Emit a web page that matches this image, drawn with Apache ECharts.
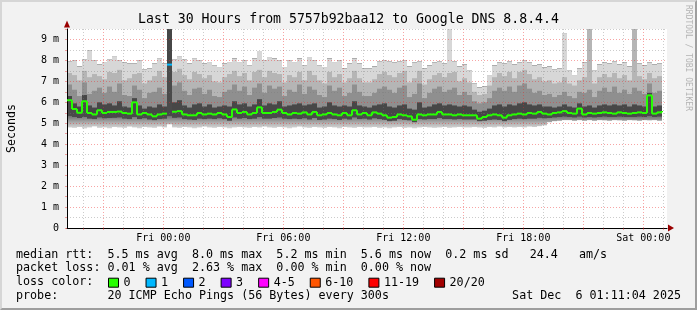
<!DOCTYPE html>
<html><head><meta charset="utf-8">
<script src="https://cdn.jsdelivr.net/npm/echarts@6/dist/echarts.min.js"></script>
<style>
html,body{margin:0;padding:0;background:#f2f2f2;}
#wrap{position:relative;width:697px;height:310px;overflow:hidden;}
#chart{position:absolute;left:0;top:0;width:697px;height:310px;}
#frame{position:absolute;left:0;top:0;width:697px;height:310px;box-sizing:border-box;border-style:solid;border-width:2px;border-color:#d6d6d6 #9e9e9e #9e9e9e #d6d6d6;pointer-events:none;}
</style></head><body>
<div id="wrap"><div id="chart"></div><div id="frame"></div></div>
<script>
// ---------------- data ----------------
const titleText = 'Last 30 Hours from 5757b92baa12 to Google DNS 8.8.4.4';
const yAxisTitle = 'Seconds';
const startHour = 19 + 11 / 60 + 4 / 3600;   // Thu 19:11:04, hours from Thu 00:00
const stepHours = 0.25;                        // one smoke column = 15 min
const spanHours = 30;
const gridHours = [20,21,22,23,24,25,26,27,28,29,30,31,32,33,34,35,36,37,38,39,40,41,42,43,44,45,46,47,48,49];
const xTickHours = [24, 30, 36, 42, 48];
const xTickLabels = ['Fri 00:00', 'Fri 06:00', 'Fri 12:00', 'Fri 18:00', 'Sat 00:00'];
const yTickValues = [0, 1, 2, 3, 4, 5, 6, 7, 8, 9];
const yTickLabels = ['0', '1 m', '2 m', '3 m', '4 m', '5 m', '6 m', '7 m', '8 m', '9 m'];

// median RTT per step (ms)
const median = [
 6.10,5.68,5.50,6.05,5.49,5.42,5.62,5.49,5.54,5.54,5.56,5.49,5.46,6.00,5.42,5.49,5.42,5.33,5.42,5.46,
 7.80,5.55,5.58,5.42,5.38,5.38,5.49,5.42,5.46,5.42,5.49,5.42,5.30,5.66,5.49,5.54,5.42,5.49,5.76,5.49,
 5.49,5.54,5.65,5.49,5.42,5.49,5.46,5.52,5.42,5.54,5.38,5.42,5.49,5.42,5.38,5.49,5.38,5.62,5.42,5.49,
 5.38,5.52,5.46,5.38,5.27,5.30,5.42,5.38,5.33,5.17,5.42,5.38,5.42,5.42,5.54,5.42,5.42,5.38,5.42,5.38,
 5.38,5.38,5.22,5.30,5.38,5.42,5.38,5.27,5.38,5.42,5.46,5.42,5.49,5.46,5.54,5.46,5.42,5.49,5.52,5.58,
 5.49,5.46,5.70,5.42,5.49,5.46,5.49,5.52,5.49,5.46,5.52,5.49,5.46,5.49,5.52,5.49,6.33,5.46,5.52,5.58
];
// fastest ping per step
const pingMin = [
 4.80,4.78,4.82,4.75,4.80,4.85,4.78,4.80,4.76,4.82,4.80,4.78,4.84,4.80,4.76,4.82,4.80,4.78,4.84,4.80,
 4.95,4.80,4.78,4.82,4.80,4.76,4.80,4.84,4.80,4.78,4.82,4.80,4.76,4.80,4.82,4.80,4.78,4.82,4.80,4.84,
 4.80,4.78,4.82,4.80,4.76,4.80,4.84,4.80,4.78,4.82,4.80,4.78,4.82,4.80,4.76,4.82,4.80,4.78,4.82,4.80,
 4.80,4.82,4.78,4.80,4.76,4.80,4.82,4.78,4.80,4.76,4.80,4.82,4.80,4.78,4.80,4.82,4.78,4.80,4.82,4.80,
 4.80,4.82,4.80,4.78,4.82,4.80,4.84,4.80,4.82,4.80,4.82,4.80,4.84,4.82,4.86,4.90,5.05,5.10,5.12,5.15,
 5.15,5.12,5.15,5.12,5.15,5.12,5.15,5.14,5.12,5.15,5.14,5.12,5.15,5.14,5.12,5.15,5.14,5.15,5.12,5.15
];
// lower dense edge
const pingLow = [
 5.35,5.30,5.25,5.30,5.22,5.20,5.28,5.24,5.25,5.26,5.28,5.22,5.20,5.30,5.20,5.24,5.18,5.15,5.20,5.22,
 5.35,5.26,5.28,5.20,5.18,5.16,5.22,5.20,5.22,5.20,5.24,5.20,5.12,5.28,5.22,5.25,5.20,5.22,5.30,5.22,
 5.22,5.25,5.28,5.22,5.20,5.22,5.20,5.24,5.18,5.25,5.16,5.18,5.22,5.20,5.16,5.22,5.18,5.28,5.20,5.22,
 5.18,5.24,5.20,5.16,5.10,5.12,5.20,5.16,5.14,5.05,5.20,5.18,5.20,5.20,5.25,5.20,5.20,5.18,5.20,5.18,
 5.18,5.18,5.10,5.12,5.16,5.18,5.16,5.10,5.16,5.20,5.22,5.20,5.22,5.22,5.26,5.24,5.25,5.28,5.30,5.32,
 5.30,5.28,5.32,5.28,5.30,5.28,5.30,5.32,5.30,5.30,5.32,5.30,5.30,5.30,5.32,5.30,5.35,5.30,5.32,5.34
];
// upper dense edge
const pingHigh = [
 6.30,5.95,5.80,6.35,5.85,5.75,6.00,5.90,5.95,5.85,6.05,5.80,5.75,6.20,5.85,5.70,5.80,5.75,5.90,5.80,
 9.60,6.00,6.10,5.85,5.75,5.90,5.95,5.80,5.90,5.75,5.80,5.85,5.80,6.05,5.90,5.95,5.80,5.90,6.15,5.85,
 5.95,5.90,6.05,5.80,5.85,5.90,5.95,5.85,5.90,5.95,5.75,5.80,6.00,5.85,5.80,5.85,5.80,6.05,5.85,5.80,
 5.75,5.85,5.90,5.95,5.80,5.75,5.85,5.90,5.70,5.65,6.00,5.75,5.80,5.90,5.95,5.85,5.90,5.85,5.80,5.85,
 5.80,5.65,5.55,5.60,5.70,5.85,5.90,5.80,5.90,5.85,5.95,6.00,5.90,5.85,5.90,5.80,5.80,5.75,5.80,5.90,
 5.80,5.75,5.95,5.80,5.85,5.75,5.85,5.90,5.85,5.90,5.85,5.90,5.80,5.90,5.85,5.80,6.45,5.80,5.85,5.90
];
// middle of the upper smoke
const pingMid = [
 6.85,6.60,6.30,6.95,6.40,6.55,6.70,6.45,6.75,6.50,6.90,6.35,6.30,6.80,6.60,6.20,6.45,6.50,6.70,6.40,
 9.60,6.80,6.95,6.55,6.35,6.65,6.70,6.40,6.60,6.30,6.25,6.50,6.60,6.85,6.55,6.75,6.35,6.70,6.90,6.45,
 6.80,6.65,6.75,6.30,6.60,6.50,6.85,6.40,6.75,6.60,6.35,6.25,6.80,6.55,6.70,6.30,6.45,6.85,6.50,6.30,
 6.30,6.45,6.65,6.75,6.60,6.45,6.70,6.80,6.25,6.40,6.90,6.20,6.45,6.65,6.75,6.50,6.60,6.70,6.35,6.50,
 6.35,6.05,5.95,6.00,6.20,6.55,6.70,6.55,6.75,6.50,6.80,6.90,6.65,6.45,6.55,6.35,6.40,6.25,6.35,6.50,
 6.30,6.20,6.50,6.45,6.60,6.25,6.55,6.70,6.50,6.75,6.45,6.60,6.40,6.70,6.55,6.40,6.90,6.45,6.55,6.50
];
// upper smoke edge
const pingUpper = [
 7.40,7.30,7.05,7.50,7.20,7.35,7.25,7.10,7.45,7.40,7.55,7.05,7.15,7.35,7.40,6.90,7.05,7.25,7.50,7.20,
 9.60,7.45,7.60,7.30,7.10,7.45,7.35,7.15,7.30,7.00,6.95,7.20,7.35,7.50,7.25,7.40,7.05,7.45,7.55,7.20,
 7.50,7.40,7.35,6.95,7.30,7.20,7.45,7.05,7.50,7.30,7.05,6.90,7.45,7.20,7.35,6.95,7.15,7.50,7.15,6.95,
 6.95,7.10,7.35,7.45,7.30,7.20,7.40,7.50,6.95,7.15,7.50,6.85,7.10,7.30,7.40,7.20,7.40,7.45,7.00,7.15,
 6.95,6.50,6.35,6.40,6.80,7.20,7.40,7.25,7.45,7.15,7.45,7.55,7.35,7.10,7.20,7.00,7.05,6.90,6.95,7.20,
 6.90,6.80,7.05,7.20,9.50,6.90,7.20,7.35,7.20,7.40,7.15,7.30,7.05,9.50,7.25,7.10,7.40,7.15,7.25,7.20
];
// slowest ping per step
const pingMax = [
 7.95,8.00,7.70,8.05,8.48,8.00,7.80,7.92,8.05,8.20,8.00,7.90,7.85,7.85,8.00,7.55,7.60,7.85,8.10,7.85,
 9.60,8.05,8.20,8.05,7.84,8.10,8.00,7.84,7.92,7.76,7.68,7.84,7.92,8.08,7.92,8.00,7.76,8.08,8.45,8.00,
 8.16,8.08,8.00,7.68,8.00,7.92,8.08,7.76,8.16,8.00,7.76,7.68,8.08,7.92,8.00,7.60,7.84,8.08,7.84,7.60,
 7.60,7.70,7.95,8.00,7.95,7.90,7.95,8.00,7.70,7.90,7.95,7.60,7.75,7.90,7.95,7.85,9.60,7.95,7.70,7.80,
 7.50,6.90,6.70,6.75,7.30,7.75,7.90,7.85,7.95,7.80,7.90,8.00,7.90,7.75,7.80,7.65,7.70,7.55,7.60,9.30,
 7.50,7.30,7.60,7.90,9.60,7.50,7.80,7.90,7.85,7.95,7.80,7.90,7.70,9.60,7.85,7.75,7.90,7.80,7.85,7.75
];
// lost pings (of 20) per step
const lossCount = [
 0,0,0,0,0,0,0,0,0,0,0,0,0,0,0,0,0,0,0,0,
 1,0,0,0,0,0,0,0,0,0,0,0,0,0,0,0,0,0,0,0,
 0,0,0,0,0,0,0,0,0,0,0,0,0,0,0,0,0,0,0,0,
 0,0,0,0,0,0,0,0,0,0,0,0,0,0,0,0,0,0,0,0,
 0,0,0,0,0,0,0,0,0,0,0,0,0,0,0,0,0,0,0,0,
 0,0,0,0,0,0,0,0,0,0,0,0,0,0,0,0,0,0,0,0
];
const lossLabels = ['0', '1', '2', '3', '4-5', '6-10', '11-19', '20/20'];
const lossUpperBounds = [0, 1, 2, 3, 5, 10, 19, 20];

const statLines = [
  'median rtt:  5.5 ms avg  8.0 ms max  5.2 ms min  5.6 ms now  0.2 ms sd   24.4   am/s',
  'packet loss: 0.01 % avg  2.63 % max  0.00 % min  0.00 % now',
  'loss color:',
  'probe:       20 ICMP Echo Pings (56 Bytes) every 300s'
];
const dateText = 'Sat Dec  6 01:11:04 2025';
const watermark = 'RRDTOOL / TOBI OETIKER';

// ---------------- styles ----------------
const MONO = '"DejaVu Sans Mono", monospace';
const lossColors = ['#26ff00', '#00b8ff', '#0059ff', '#7e00ff', '#ff00ff', '#ff5500', '#ff0000', '#a10000'];
const bandColors = [null, '#4a4a4a', '#474747', '#8f8f8f', '#b5b5b5', '#d7d7d7'];
const ARROW = '#9a0000';
const MAJOR = 'rgba(235,40,40,0.42)';
const MINOR = 'rgba(120,120,120,0.38)';
const DOT = [1, 2];

// ---------------- build ----------------
const N = median.length;
const xs = median.map((_, i) => startHour + i * stepHours);
function bucket(l) { for (let b = 0; b < lossUpperBounds.length; b++) if (l <= lossUpperBounds[b]) return b; return lossUpperBounds.length - 1; }

// smoke: each column is drawn as nested rectangles from each quantile up to the max
const smokeSeries = {
  type: 'custom', z: 2, clip: true, silent: true,
  data: xs.map((x, i) => [x, i < N - 1 ? xs[i + 1] : x, pingMin[i], pingLow[i], median[i], pingHigh[i], pingMid[i], pingUpper[i], pingMax[i]]),
  encode: { x: [0, 1], y: [2, 8] },
  renderItem: function (params, api) {
    const x0 = api.value(0), x1 = api.value(1);
    const top = api.coord([x1, api.value(8)]);
    const gTop = api.coord([x0, 5.35])[1], gBot = api.coord([x0, 4.72])[1];
    const grad = new echarts.graphic.LinearGradient(0, gTop, 0, gBot,
      [{ offset: 0, color: '#707070' }, { offset: 0.5, color: '#ababab' }, { offset: 1, color: '#dedede' }], true);
    const children = [];
    for (let j = 0; j < 6; j++) {
      const b = api.coord([x0, api.value(2 + j)]);
      children.push({
        type: 'rect',
        shape: { x: b[0], y: top[1], width: top[0] - b[0], height: b[1] - top[1] },
        style: { fill: j === 0 ? grad : bandColors[j] }
      });
    }
    return { type: 'group', children: children };
  }
};

const medianSeries = {
  type: 'custom', z: 6, clip: true, silent: true,
  data: median.map((m, i) => [xs[i], i < N - 1 ? xs[i + 1] : xs[i], m, i > 0 ? median[i - 1] : m, lossCount[i], i > 0 ? lossCount[i - 1] : lossCount[i]]),
  encode: { x: [0, 1], y: [2, 3] },
  renderItem: function (params, api) {
    const a = api.coord([api.value(0), api.value(2)]);
    const b = api.coord([api.value(1), api.value(2)]);
    const p = api.coord([api.value(0), api.value(3)]);
    const c = lossColors[bucket(api.value(4))];
    const children = [{ type: 'line', shape: { x1: a[0], y1: a[1], x2: b[0], y2: b[1] }, style: { stroke: c, lineWidth: 2 } }];
    if (bucket(api.value(5)) === bucket(api.value(4))) {
      children.push({ type: 'line', shape: { x1: a[0], y1: p[1], x2: a[0], y2: a[1] }, style: { stroke: c, lineWidth: 2 } });
    }
    return { type: 'group', children: children };
  }
};

const legendSeries = lossLabels.map((name, i) => ({ type: 'line', name: name, data: [], color: lossColors[i] }));

const hiddenParts = { axisLabel: { show: false }, axisTick: { show: false }, splitLine: { show: false } };

const chart = echarts.init(document.getElementById('chart'), null, { renderer: 'canvas' });
chart.setOption({
  animation: false,
  backgroundColor: '#f2f2f2',
  textStyle: { fontFamily: MONO },
  title: {
    text: titleText, left: 'center', top: 13.5, padding: 0,
    textStyle: { fontFamily: MONO, fontSize: 13.2, fontWeight: 'normal', color: '#000' }
  },
  grid: { left: 67, top: 29, width: 600, height: 199, show: true, backgroundColor: '#ffffff', borderWidth: 0,
          containLabel: false, outerBoundsMode: 'none' },
  xAxis: [{
    type: 'value', min: startHour, max: startHour + spanHours, z: 3,
    axisLine: { show: true, onZero: false, lineStyle: { color: '#000', width: 1 } },
    axisTick: { show: true, customValues: gridHours, length: 2, lineStyle: { color: MAJOR } },
    axisLabel: {
      customValues: xTickHours, margin: 5, color: '#000', fontFamily: MONO, fontSize: 10,
      formatter: function (v) { const i = xTickHours.findIndex(h => Math.abs(h - v) < 1e-6); return i >= 0 ? xTickLabels[i] : ''; }
    },
    splitLine: { show: true, lineStyle: { color: [MINOR, MAJOR, MINOR], type: DOT, width: 1 } }
  }, Object.assign({
    type: 'value', min: startHour, max: startHour + spanHours, z: 4, position: 'top',
    axisLine: { show: true, onZero: true, onZeroAxisIndex: 0, symbol: ['none', 'triangle'], symbolSize: [7, 6], symbolOffset: [0, 4], lineStyle: { color: ARROW, width: 0 } }
  }, hiddenParts)],
  yAxis: [{
    type: 'value', min: 0, max: 9.5, interval: 0.5, z: 3,
    name: yAxisTitle, nameLocation: 'middle', nameGap: 49, nameRotate: 90,
    nameTextStyle: { fontFamily: MONO, fontSize: 11.6, color: '#000' },
    axisLine: { show: true, lineStyle: { color: '#000', width: 1 } },
    axisTick: { show: true, length: 2, lineStyle: { color: MAJOR } },
    axisLabel: {
      margin: 8, color: '#000', fontFamily: MONO, fontSize: 10,
      formatter: function (v) { const i = yTickValues.findIndex(t => Math.abs(t - v) < 1e-6); return i >= 0 ? yTickLabels[i] : ''; }
    },
    splitLine: { show: true, lineStyle: { color: [MAJOR, MINOR], type: DOT, width: 1 } }
  }, Object.assign({
    type: 'value', min: 0, max: 9.5, z: 4, position: 'right', offset: -600,
    axisLine: { show: true, onZero: false, symbol: ['none', 'triangle'], symbolSize: [6, 7], symbolOffset: [0, 5], lineStyle: { color: ARROW, width: 0 } }
  }, hiddenParts)],
  legend: {
    data: lossLabels, left: 108, top: 276.7, padding: 0, orient: 'horizontal',
    itemWidth: 10, itemHeight: 9, itemGap: 15, itemTextGap: 5, icon: 'rect', selectedMode: false,
    itemStyle: { borderColor: '#000', borderWidth: 1 },
    textStyle: { fontFamily: MONO, fontSize: 11.7, color: '#000' }
  },
  graphic: [
    ...statLines.map((t, i) => ({
      type: 'text', left: 16, top: [248.5, 262, 276, 289.8][i], silent: true,
      style: { text: t, font: '11.7px ' + MONO, fill: '#000' }
    })),
    { type: 'text', right: 16, top: 289.8, silent: true, style: { text: dateText, font: '11.7px ' + MONO, fill: '#000' } },
    { type: 'text', x: 688, y: 5, rotation: -Math.PI / 2, silent: true,
      style: { text: watermark, font: '8px ' + MONO, fill: '#b4b4b4', textAlign: 'left', textVerticalAlign: 'middle', verticalAlign: 'middle' } }
  ],
  series: [smokeSeries, medianSeries, ...legendSeries]
});
</script>
</body></html>
